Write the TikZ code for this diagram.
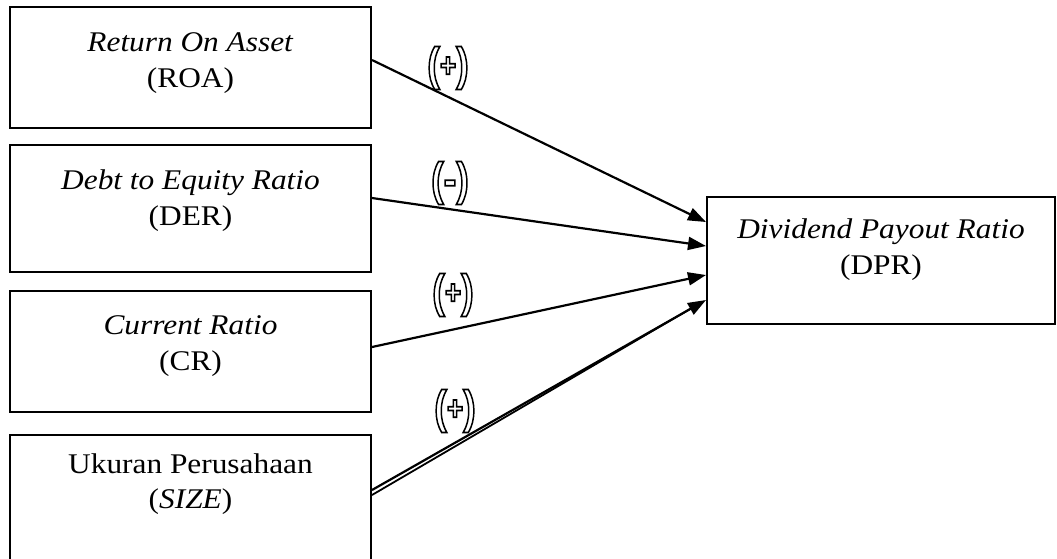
\documentclass[tikz,border=0pt]{standalone}
\usepackage{fontspec}
\setmainfont{Liberation Serif}[FakeStretch=1.1]
\newfontfamily\signfont{Liberation Sans}
\usetikzlibrary{arrows.meta,calc}

% hollow (outlined) sign between parentheses, e.g. (+)
% #1 sign, #2 size of the sign, #3 raise of the sign
\newcommand{\hollowsign}[3]{\special{pdf:literal direct 1 Tr 1.8 w}%
  \scalebox{0.82}[1]{\signfont\bfseries
  \fontsize{46}{46}\selectfont(\raisebox{#3}{\fontsize{#2}{#2}\selectfont#1})}%
  \special{pdf:literal direct 0 Tr}}

\begin{document}
\begin{tikzpicture}[x=1pt,y=-1pt,
  box/.style={draw,line width=2pt,inner sep=0pt,rectangle},
  txt/.style={font=\fontsize{28.5}{28.5}\selectfont,inner sep=0pt,anchor=base},
  link/.style={line width=2.2pt,-{Triangle[length=18pt,width=13pt]}},
  sign/.style={inner sep=0pt}]
\useasboundingbox (0,0) rectangle (1057,558);
\clip (0,0) rectangle (1057,558);

% independent variables
\node[box,minimum width=361pt,minimum height=121pt] (roa) at (190.5,67.5) {};
\node[box,minimum width=361pt,minimum height=127pt] (der) at (190.5,208.5) {};
\node[box,minimum width=361pt,minimum height=121pt] (cr) at (190.5,351.5) {};
\node[box,minimum width=361pt,minimum height=134pt] (size) at (190.5,502) {};

% dependent variable
\node[box,minimum width=348pt,minimum height=127pt] (dpr) at (881,260.5) {};

% box texts
\node[txt] (roaA) at (190.5,51) {\textit{Return On Asset}};
\node[txt] (roaB) at (190.5,87) {(ROA)};
\node[txt] (derA) at (190.5,189) {\textit{Debt to Equity Ratio}};
\node[txt] (derB) at (190.5,225) {(DER)};
\node[txt] (crA) at (190.5,334) {\textit{Current Ratio}};
\node[txt] (crB) at (190.5,370) {(CR)};
\node[txt] (sizeA) at (190.5,473) {Ukuran Perusahaan};
\node[txt] (sizeB) at (190.5,508) {(\textit{SIZE})};
\node[txt] (dprA) at (881,238) {\textit{Dividend Payout Ratio}};
\node[txt] (dprB) at (881,274) {(DPR)};

% hypothesised effects
\draw[link] ([yshift=7.5pt]roa.east) -- ([yshift=38.5pt]dpr.west);
\draw[link] ([yshift=10.5pt]der.east) -- ([yshift=14.5pt]dpr.west);
\draw[link] ([yshift=4.5pt]cr.east) -- ([yshift=-14.5pt]dpr.west);
\draw[link] ([yshift=12pt]size.east) -- ([yshift=-39.5pt]dpr.west);
\draw[line width=1.8pt] ([yshift=7pt]size.east) -- ([xshift=-10pt,yshift=-45pt]dpr.west);

% signs
\node[sign] (s1) at (448,68) {\hollowsign{+}{34}{3pt}};
\node[sign] (s2) at (450,183) {\hollowsign{-}{46}{0pt}};
\node[sign] (s3) at (453,295) {\hollowsign{+}{34}{3pt}};
\node[sign] (s4) at (455,411) {\hollowsign{+}{34}{3pt}};
\end{tikzpicture}
\end{document}
